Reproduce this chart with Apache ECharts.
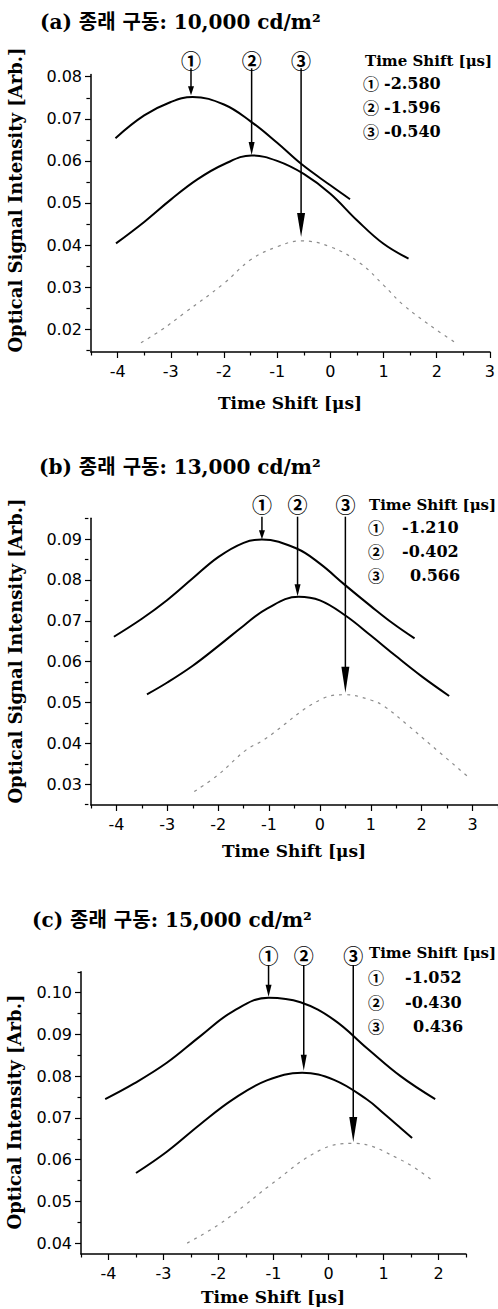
<!DOCTYPE html>
<html>
<head>
<meta charset="utf-8">
<script src="https://cdn.jsdelivr.net/npm/echarts@6/dist/echarts.min.js"></script>
<style>
  html, body { margin: 0; padding: 0; background: #fff; }
  #chart { width: 498px; height: 1309px; }
</style>
</head>
<body>
<div id="chart"></div>
<script>
// ---------------- data ----------------
const panelTitles = ['(a) 종래 구동: 10,000 cd/m²', '(b) 종래 구동: 13,000 cd/m²', '(c) 종래 구동: 15,000 cd/m²'];
const yTitles = ['Optical Signal Intensity [Arb.]', 'Optical Signal Intensity [Arb.]', 'Optical Intensity [Arb.]'];
const xTitle = 'Time Shift [μs]';
const legendHead = 'Time Shift [μs]';
const markers = ['①', '②', '③'];

const shiftA = [-2.580, -1.596, -0.540];
const shiftB = [-1.210, -0.402, 0.566];
const shiftC = [-1.052, -0.430, 0.436];

// axis ranges and ticks
const xRangeA = [-4.5, 3.0],  yRangeA = [0.0146, 0.0805];
const xRangeB = [-4.5, 3.5],  yRangeB = [0.0249, 0.0951];
const xRangeC = [-4.5, 2.5],  yRangeC = [0.0374, 0.1050];

const xTicksA = [-4, -3, -2, -1, 0, 1, 2, 3];
const xMinorA = [-4.5, -3.5, -2.5, -1.5, -0.5, 0.5, 1.5, 2.5];
const yTicksA = [0.02, 0.03, 0.04, 0.05, 0.06, 0.07, 0.08];
const yMinorA = [0.015, 0.025, 0.035, 0.045, 0.055, 0.065, 0.075];

const xTicksB = [-4, -3, -2, -1, 0, 1, 2, 3];
const xMinorB = [-4.5, -3.5, -2.5, -1.5, -0.5, 0.5, 1.5, 2.5, 3.5];
const yTicksB = [0.03, 0.04, 0.05, 0.06, 0.07, 0.08, 0.09];
const yMinorB = [0.025, 0.035, 0.045, 0.055, 0.065, 0.075, 0.085, 0.095];

const xTicksC = [-4, -3, -2, -1, 0, 1, 2];
const xMinorC = [-4.5, -3.5, -2.5, -1.5, -0.5, 0.5, 1.5, 2.5];
const yTicksC = [0.04, 0.05, 0.06, 0.07, 0.08, 0.09, 0.10];
const yMinorC = [0.045, 0.055, 0.065, 0.075, 0.085, 0.095, 0.105];

// curves (x in us, y in Arb.)
const curveA1 = [[-4.04,0.0654],[-3.5,0.0708],[-3.0,0.0740],[-2.59,0.0752],[-2.0,0.0734],[-1.5,0.0694],[-1.0,0.0643],[-0.55,0.0593],[0.0,0.0542],[0.37,0.0509]];
const curveA2 = [[-4.03,0.0404],[-3.5,0.0455],[-3.0,0.0508],[-2.5,0.0556],[-2.0,0.0592],[-1.48,0.0613],[-1.0,0.0600],[-0.5,0.0569],[0.0,0.0522],[0.5,0.0459],[1.0,0.0403],[1.47,0.0368]];
const curveA3 = [[-3.56,0.0168],[-3.18,0.0198],[-2.75,0.0238],[-2.0,0.0309],[-1.5,0.0365],[-1.0,0.0396],[-0.55,0.0410],[0.0,0.0396],[0.56,0.0357],[1.0,0.0305],[1.37,0.0258],[2.0,0.0198],[2.37,0.0167]];

const curveB1 = [[-4.05,0.0661],[-3.5,0.0705],[-3.0,0.0751],[-2.5,0.0804],[-2.0,0.0856],[-1.5,0.0891],[-1.14,0.0899],[-0.46,0.0877],[0.0,0.0840],[0.49,0.0788],[1.0,0.0736],[1.43,0.0694],[1.86,0.0657]];
const curveB2 = [[-3.4,0.0520],[-3.0,0.0549],[-2.5,0.0590],[-2.0,0.0638],[-1.5,0.0688],[-1.04,0.0730],[-0.42,0.0759],[0.0,0.0750],[0.5,0.0713],[1.0,0.0664],[1.5,0.0613],[2.0,0.0564],[2.54,0.0516]];
const curveB3 = [[-2.47,0.0282],[-2.0,0.0323],[-1.45,0.0384],[-1.11,0.0408],[0.06,0.0510],[0.49,0.0519],[1.0,0.0506],[1.27,0.0490],[1.72,0.0445],[2.18,0.0396],[2.93,0.0316]];

const curveC1 = [[-4.06,0.0745],[-3.54,0.0782],[-2.94,0.0832],[-2.33,0.0896],[-1.73,0.0956],[-1.09,0.0988],[-0.51,0.0977],[0.10,0.0935],[0.70,0.0867],[1.31,0.0800],[1.94,0.0745]];
const curveC2 = [[-3.5,0.0568],[-2.94,0.0619],[-2.33,0.0685],[-1.73,0.0745],[-1.12,0.0790],[-0.48,0.0808],[0.10,0.0791],[0.70,0.0744],[1.0,0.0711],[1.31,0.0676],[1.52,0.0652]];
const curveC3 = [[-2.57,0.0400],[-2.0,0.0444],[-1.51,0.0492],[-1.09,0.0536],[-0.15,0.0623],[0.45,0.0639],[1.31,0.0600],[1.91,0.0548]];

// arrows: [x, line top, tip, marker centre]
const arrowsA = [[-2.62,0.0820,0.0756,0.0838],[-1.48,0.0820,0.0614,0.0838],[-0.55,0.0820,0.0419,0.0838]];
const arrowsB = [[-1.14,0.0955,0.0900,0.0986],[-0.44,0.0955,0.0760,0.0986],[0.50,0.0955,0.0524,0.0986]];
const arrowsC = [[-1.09,0.1066,0.0990,0.1089],[-0.45,0.1066,0.0813,0.1089],[0.45,0.1066,0.0642,0.1089]];

// ---------------- styles / layout ----------------
const SERIF = '"DejaVu Serif", "Noto Sans CJK KR", serif';
const SANS = '"DejaVu Sans", sans-serif';
const CIRC = '"Noto Sans CJK KR", "DejaVu Sans", sans-serif';

const panels = [
  { grid: {left: 91, top: 74.6, width: 400, height: 277.4}, xr: xRangeA, yr: yRangeA, xt: xTicksA, xm: xMinorA, yt: yTicksA, ym: yMinorA,
    curves: [curveA1, curveA2, curveA3], arrows: arrowsA, shifts: shiftA, head: [9, 13, 24],
    title: [40, 22], ytitle: [15, 200], xtitle: [290, 403], leg: {hx: 365, hy: 61, cx: 371, nx: 384, ys: [83, 107, 131]} },
  { grid: {left: 91, top: 518.3, width: 409.6, height: 286.7}, xr: xRangeB, yr: yRangeB, xt: xTicksB, xm: xMinorB, yt: yTicksB, ym: yMinorB,
    curves: [curveB1, curveB2, curveB3], arrows: arrowsB, shifts: shiftB, head: [9, 12, 26],
    title: [39, 467], ytitle: [15, 651], xtitle: [294, 851], leg: {hx: 369, hy: 505, cx: 376, nx: 402, ys: [527, 551, 575]} },
  { grid: {left: 81, top: 971.8, width: 385, height: 282.2}, xr: xRangeC, yr: yRangeC, xt: xTicksC, xm: xMinorC, yt: yTicksC, ym: yMinorC,
    curves: [curveC1, curveC2, curveC3], arrows: arrowsC, shifts: shiftC, head: [12, 16, 25],
    title: [32, 920], ytitle: [14, 1112], xtitle: [273, 1297], leg: {hx: 369, hy: 953, cx: 376, nx: 405, ys: [977, 1002, 1026]} }
];
const HEAD_W = [6, 6, 8];

const grids = [], xAxes = [], yAxes = [], series = [], graphics = [];

function fmtShift(v) {
  const s = v.toFixed(3);
  return v < 0 ? s : '\u2002' + s;
}

panels.forEach((p, i) => {
  grids.push(p.grid);
  const axisLine = { show: true, onZero: false, lineStyle: { color: '#000', width: 1.5 } };
  xAxes.push({
    type: 'value', gridIndex: i, position: 'bottom', min: p.xr[0], max: p.xr[1],
    axisLine: axisLine, splitLine: { show: false },
    axisTick: { show: true, customValues: p.xt, length: 6, lineStyle: { color: '#000', width: 1.2 } },
    axisLabel: { customValues: p.xt, margin: 11, color: '#000', fontFamily: SANS, fontSize: 16 }
  });
  // minor x ticks: top-positioned axis moved onto the bottom edge, ticks pointing down
  xAxes.push({
    type: 'value', gridIndex: i, position: 'top', offset: -p.grid.height, min: p.xr[0], max: p.xr[1],
    axisLine: { show: false, onZero: false }, splitLine: { show: false },
    axisTick: { show: true, inside: true, customValues: p.xm, length: 3.5, lineStyle: { color: '#000', width: 1.2 } },
    axisLabel: { show: false }
  });
  yAxes.push({
    type: 'value', gridIndex: i, position: 'left', min: p.yr[0], max: p.yr[1],
    axisLine: axisLine, splitLine: { show: false },
    axisTick: { show: true, customValues: p.yt, length: 6, lineStyle: { color: '#000', width: 1.2 } },
    axisLabel: { customValues: p.yt, margin: 9, color: '#000', fontFamily: SANS, fontSize: 16,
                 formatter: v => v.toFixed(2) }
  });
  // minor y ticks: right-positioned axis moved onto the left edge, ticks pointing left
  yAxes.push({
    type: 'value', gridIndex: i, position: 'right', offset: -p.grid.width, min: p.yr[0], max: p.yr[1],
    axisLine: { show: false, onZero: false }, splitLine: { show: false },
    axisTick: { show: true, inside: true, customValues: p.ym, length: 3.5, lineStyle: { color: '#000', width: 1.2 } },
    axisLabel: { show: false }
  });
  const xi = i * 2, yi = i * 2;
  p.curves.forEach((c, k) => {
    series.push({
      type: 'line', xAxisIndex: xi, yAxisIndex: yi, data: c,
      smooth: 0.4, showSymbol: false, symbol: 'none', silent: true, animation: false,
      lineStyle: k < 2 ? { color: '#000', width: 2 } : { color: '#8c8c8c', width: 1.2, type: [3, 5] }
    });
  });
  const head = p.head;
  series.push({
    type: 'custom', xAxisIndex: xi, yAxisIndex: yi, data: p.arrows, clip: false, silent: true, animation: false,
    renderItem: function (params, api) {
      const j = params.dataIndex;
      const x = api.value(0);
      const pTop = api.coord([x, api.value(1)]);
      const pTip = api.coord([x, api.value(2)]);
      const pMark = api.coord([x, api.value(3)]);
      const hl = head[j], hw = HEAD_W[j];
      return {
        type: 'group',
        children: [
          { type: 'line', shape: { x1: pTop[0], y1: pTop[1], x2: pTip[0], y2: pTip[1] - hl + 1 },
            style: { stroke: '#000', lineWidth: 1.5 } },
          { type: 'polygon', shape: { points: [[pTip[0] - hw / 2, pTip[1] - hl], [pTip[0] + hw / 2, pTip[1] - hl], [pTip[0], pTip[1]]] },
            style: { fill: '#000' } },
          { type: 'text', x: pMark[0], y: pMark[1],
            style: { text: markers[j], fill: '#000', font: 'bold 20px ' + CIRC, align: 'center', verticalAlign: 'middle' } }
        ]
      };
    }
  });

  // texts
  graphics.push({ type: 'text', x: p.title[0], y: p.title[1],
    style: { text: panelTitles[i], fill: '#000', font: 'bold 20px ' + SERIF, align: 'left', verticalAlign: 'middle' } });
  graphics.push({ type: 'text', x: p.ytitle[0], y: p.ytitle[1], rotation: Math.PI / 2,
    style: { text: yTitles[i], fill: '#000', font: 'bold 18px ' + SERIF, align: 'center', verticalAlign: 'middle' } });
  graphics.push({ type: 'text', x: p.xtitle[0], y: p.xtitle[1],
    style: { text: xTitle, fill: '#000', font: 'bold 17px ' + SERIF, align: 'center', verticalAlign: 'middle' } });
  graphics.push({ type: 'text', x: p.leg.hx, y: p.leg.hy,
    style: { text: legendHead, fill: '#000', font: 'bold 15px ' + SERIF, align: 'left', verticalAlign: 'middle' } });
  p.shifts.forEach((v, k) => {
    graphics.push({ type: 'text', x: p.leg.cx, y: p.leg.ys[k],
      style: { text: markers[k], fill: '#000', font: 'bold 16px ' + CIRC, align: 'center', verticalAlign: 'middle' } });
    graphics.push({ type: 'text', x: p.leg.nx, y: p.leg.ys[k],
      style: { text: fmtShift(v), fill: '#000', font: 'bold 16px ' + SERIF, align: 'left', verticalAlign: 'middle' } });
  });
});

const chart = echarts.init(document.getElementById('chart'), null, { renderer: 'svg', width: 498, height: 1309 });
chart.setOption({
  animation: false,
  backgroundColor: '#fff',
  grid: grids,
  xAxis: xAxes,
  yAxis: yAxes,
  series: series,
  graphic: { elements: graphics }
});
</script>
</body>
</html>
